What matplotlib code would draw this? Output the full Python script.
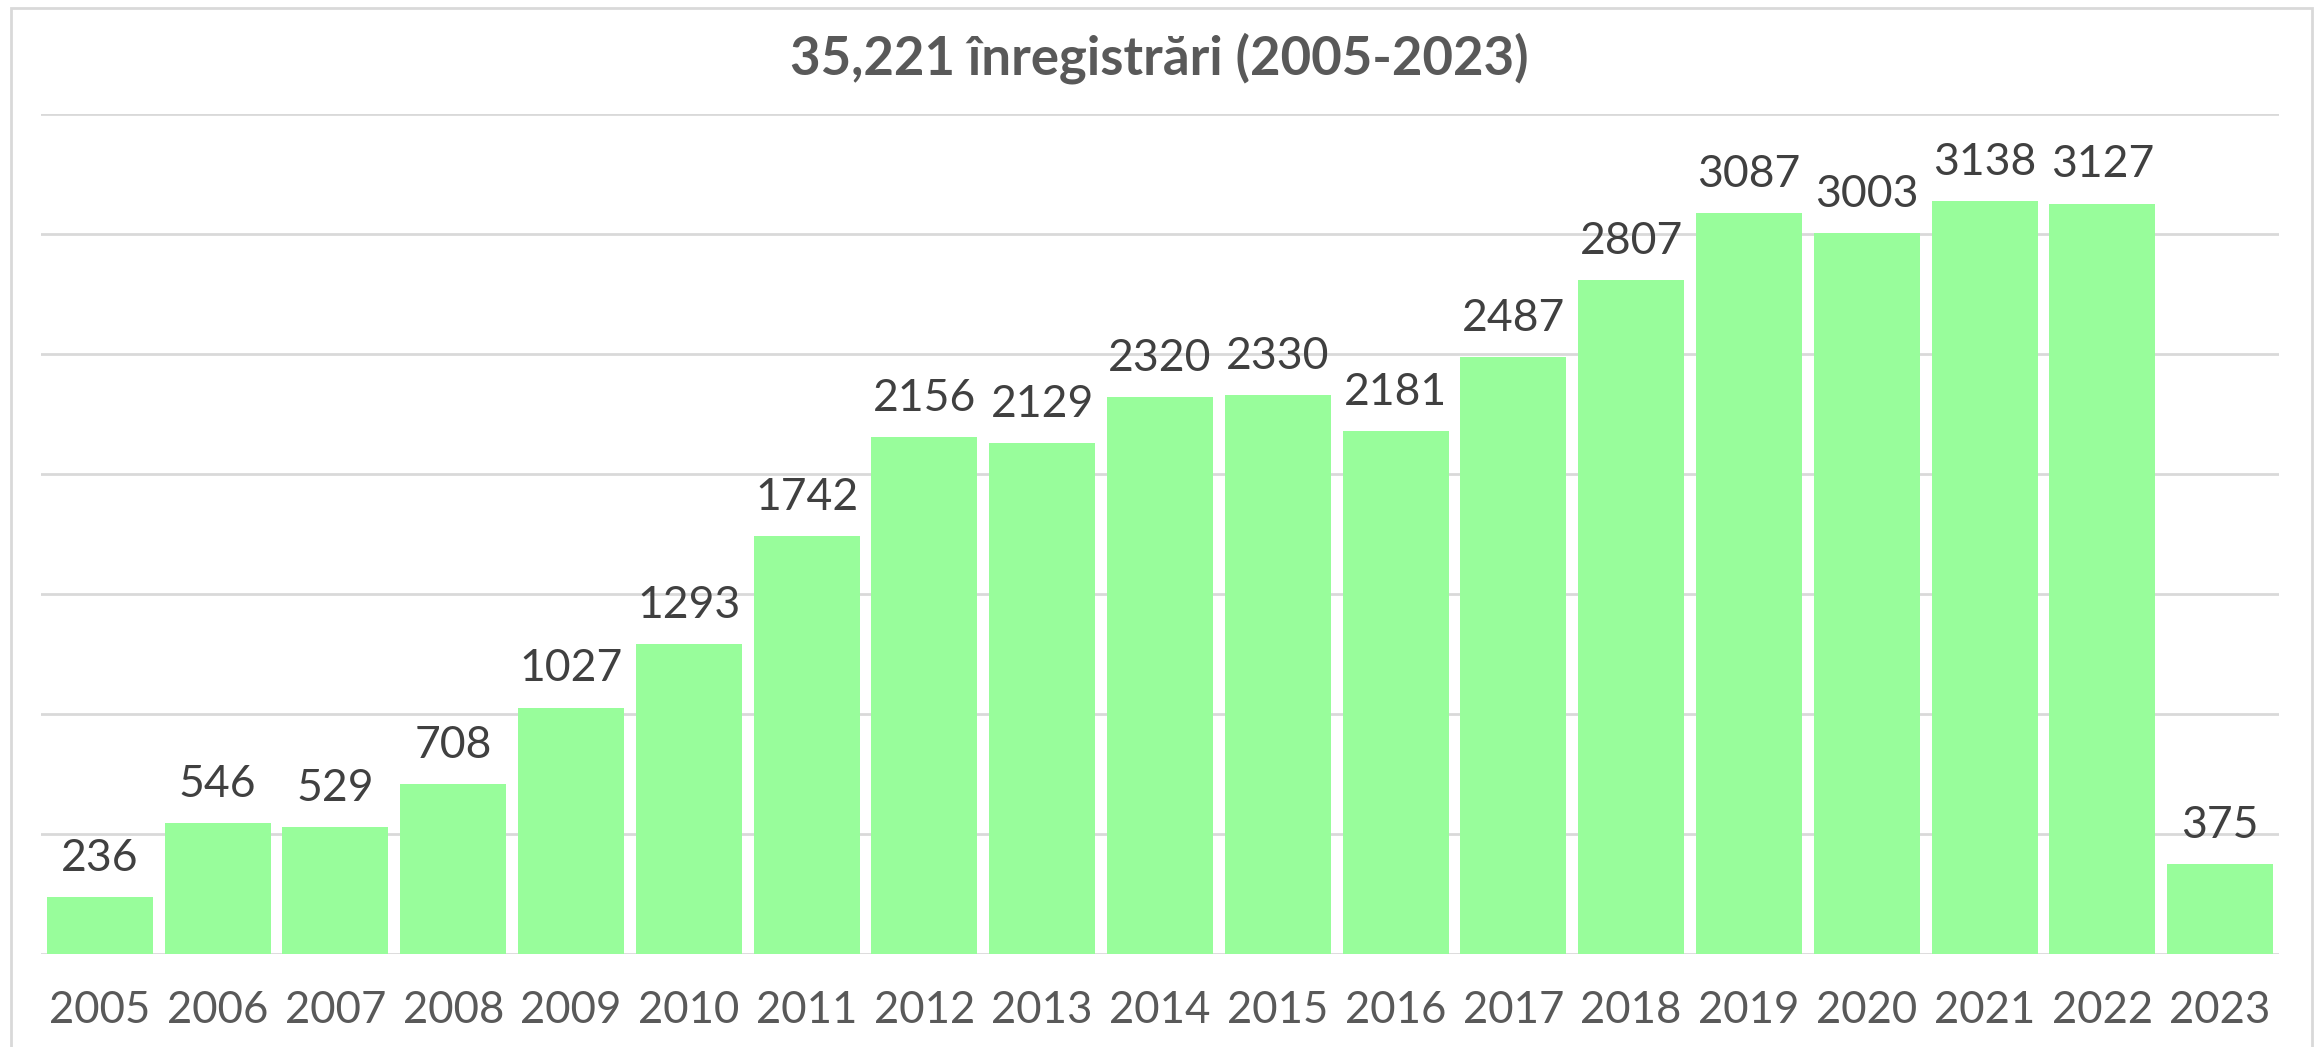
import matplotlib
matplotlib.use("Agg")
import matplotlib.pyplot as plt
from matplotlib.patches import Rectangle

years = ["2005", "2006", "2007", "2008", "2009", "2010", "2011", "2012", "2013", "2014",
         "2015", "2016", "2017", "2018", "2019", "2020", "2021", "2022", "2023"]
counts = [236, 546, 529, 708, 1027, 1293, 1742, 2156, 2129, 2320,
          2330, 2181, 2487, 2807, 3087, 3003, 3138, 3127, 375]
title = "35,221 înregistrări (2005-2023)"

W, H = 2318, 1047
fig = plt.figure(figsize=(W / 100, H / 100), dpi=100)
fig.patch.set_facecolor("white")

# plot area in pixels: x 41..2279, y 114..954
ax = fig.add_axes([41 / W, 1 - 954 / H, (2279 - 41) / W, (954 - 114) / H])

x = list(range(len(years)))
ax.bar(x, counts, width=0.9, color="#98fd9b", zorder=3)
for xi, v in zip(x, counts):
    ax.annotate(str(v), (xi, v), xytext=(0, 13), textcoords="offset points",
                ha="center", va="bottom", fontsize=32, color="#404040",
                family="Lato", zorder=4)

ax.set_xlim(-0.5, len(years) - 0.5)
ax.set_ylim(0, 3500)
ax.set_yticks(range(0, 3501, 500))
ax.set_yticklabels([])
ax.tick_params(axis="y", length=0)
ax.grid(axis="y", color="#d9d9d9", linewidth=2, zorder=0)
ax.set_xticks(x)
ax.set_xticklabels(years, fontsize=31.5, color="#595959", family="Lato")
ax.tick_params(axis="x", length=0, pad=26)
for s in ax.spines.values():
    s.set_visible(False)

fig.text(0.5, 1 - 58 / H, title, ha="center", va="center", fontsize=38,
         fontweight="bold", color="#595959", family="Lato")

fig.add_artist(Rectangle((11 / W, -0.05), (2312 - 11) / W, 1 - 8 / H + 0.05,
                         transform=fig.transFigure, fill=False,
                         edgecolor="#d9d9d9", linewidth=2, clip_on=False))

fig.savefig("out.png", dpi=100)
